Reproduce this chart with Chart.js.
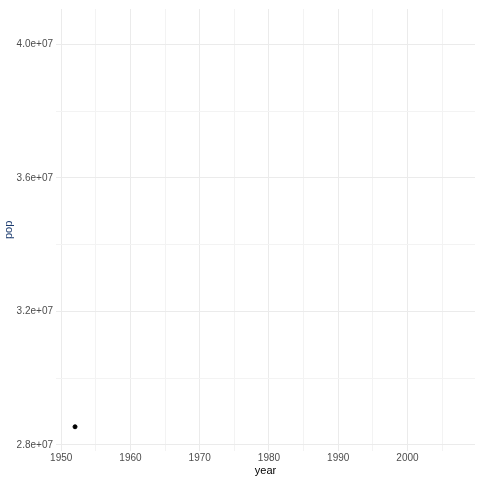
<!DOCTYPE html>
<html><head><meta charset="utf-8">
<script src="https://cdn.jsdelivr.net/npm/chart.js@4"></script>
<style>html,body{margin:0;background:#fff}#w{width:480px;height:480px}</style>
</head><body><div id="w"><canvas id="c"></canvas></div>
<script>
const years = [1952];
const pop = [28540000];
const xTicks = [1950,1955,1960,1965,1970,1975,1980,1985,1990,1995,2000,2005];
const yTicks = [28000000,30000000,32000000,34000000,36000000,38000000,40000000];
const fmt = v => (v/1e7).toFixed(1)+'e+07';
new Chart(document.getElementById('c'), {
  type: 'scatter',
  data: { datasets: [{ data: years.map((y,i)=>({x:y,y:pop[i]})), backgroundColor:'#000', borderColor:'#000', pointRadius:2 }] },
  options: {
    responsive:true, maintainAspectRatio:false, animation:false,
    layout:{padding:{left:2,right:5,top:3,bottom:2}},
    plugins:{legend:{display:false},tooltip:{enabled:false}},
    scales:{
      x:{min:1949.25,max:2009.75,
        afterBuildTicks:a=>{a.ticks=xTicks.map(v=>({value:v}));},
        ticks:{autoSkip:false,maxRotation:0,color:'#4d4d4d',font:{family:'Liberation Sans',size:10},padding:1,
          callback:v=>v%10===0?String(v):''},
        grid:{color:c=>c.tick&&c.tick.value%10===0?'#ebebeb':'#f3f3f3',lineWidth:1,drawTicks:false,tickLength:0},
        border:{display:false},
        title:{display:true,text:'year',color:'#000',font:{family:'Liberation Sans',size:11},padding:{top:0,bottom:0}}},
      y:{min:27820000,max:41056000,
        afterBuildTicks:a=>{a.ticks=yTicks.map(v=>({value:v}));},
        afterFit:a=>{a.width=54;},
        ticks:{autoSkip:false,color:'#4d4d4d',font:{family:'Liberation Sans',size:10},padding:3,
          callback:v=>v%4000000===0?fmt(v):''},
        grid:{color:c=>c.tick&&c.tick.value%4000000===0?'#ebebeb':'#f3f3f3',lineWidth:1,drawTicks:false},
        border:{display:false},
        title:{display:true,text:'pop',color:'#1a3a6e',font:{family:'Liberation Sans',size:11},padding:{top:0,bottom:2}}}
    }
  }
});
</script></body></html>
